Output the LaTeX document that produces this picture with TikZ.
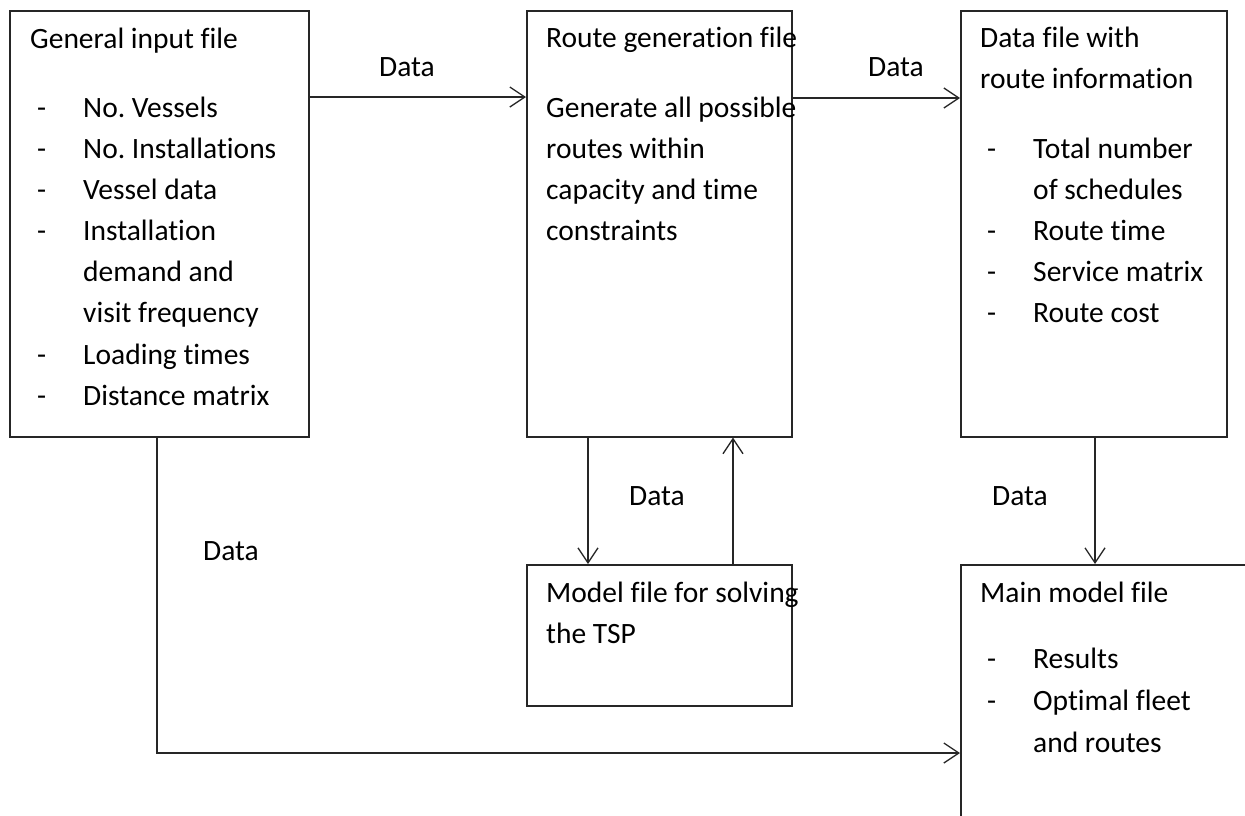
\documentclass[tikz,border=0pt]{standalone}
\usepackage{fontspec}
\setmainfont{Carlito}[Ligatures=NoCommon]
\usetikzlibrary{arrows.meta}
\frenchspacing
\begin{document}
\begin{tikzpicture}[x=1pt,y=-1pt,
  box/.style={draw=black!85, line width=1.6pt, rectangle, anchor=north west, inner sep=0pt},
  txt/.style={anchor=base west, inner sep=0pt, font=\fontsize{29.5}{35}\selectfont},
  lbl/.style={inner sep=0pt, font=\fontsize{29.5}{35}\selectfont},
  conn/.style={draw=black!85, line width=1.3pt, -{Straight Barb[length=15pt,width=20pt,line width=1.3pt]}}]
\clip (0,0) rectangle (1245,815);
\fill[white] (0,0) rectangle (1245,815);
% boxes
\node[box, minimum width=299pt, minimum height=426pt] (gen) at (9,10) {};
\node[box, minimum width=265pt, minimum height=426pt] (route) at (526,10) {};
\node[box, minimum width=266pt, minimum height=426pt] (info) at (960,10) {};
\node[box, minimum width=265pt, minimum height=141pt] (tsp) at (526,564) {};
\node[box, minimum width=400pt, minimum height=300pt] (main) at (960,564) {};
% general input file
\node[txt] (g0) at (30,48) {General input file};
\node[txt] (gd1) at (37,117) {-};
\node[txt] (g1) at (83,117) {No. Vessels};
\node[txt] (gd2) at (37,158) {-};
\node[txt] (g2) at (83,158) {No. Installations};
\node[txt] (gd3) at (37,199) {-};
\node[txt] (g3) at (83,199) {Vessel data};
\node[txt] (gd4) at (37,240) {-};
\node[txt] (g4) at (83,240) {Installation};
\node[txt] (g5) at (83,281) {demand and};
\node[txt] (g6) at (83,322) {visit frequency};
\node[txt] (gd7) at (37,364) {-};
\node[txt] (g7) at (83,364) {Loading times};
\node[txt] (gd8) at (37,405) {-};
\node[txt] (g8) at (83,405) {Distance matrix};
% route generation file
\node[txt] (r0) at (546,47) {Route generation file};
\node[txt] (r1) at (546,117) {Generate all possible};
\node[txt] (r2) at (546,158) {routes within};
\node[txt] (r3) at (546,199) {capacity and time};
\node[txt] (r4) at (546,240) {constraints};
% data file with route information
\node[txt] (i0) at (980,47) {Data file with};
\node[txt] (i1) at (980,88) {route information};
\node[txt] (id2) at (987,158) {-};
\node[txt] (i2) at (1033,158) {Total number};
\node[txt] (i3) at (1033,199) {of schedules};
\node[txt] (id4) at (987,240) {-};
\node[txt] (i4) at (1033,240) {Route time};
\node[txt] (id5) at (987,281) {-};
\node[txt] (i5) at (1033,281) {Service matrix};
\node[txt] (id6) at (987,322) {-};
\node[txt] (i6) at (1033,322) {Route cost};
% TSP model
\node[txt] (t0) at (546,602) {Model file for solving};
\node[txt] (t1) at (546,643) {the TSP};
% main model
\node[txt] (m0) at (980,602) {Main model file};
\node[txt] (md1) at (987,668) {-};
\node[txt] (m1) at (1033,668) {Results};
\node[txt] (md2) at (987,710) {-};
\node[txt] (m2) at (1033,710) {Optimal fleet};
\node[txt] (m3) at (1033,752) {and routes};
% connectors
\draw[conn] ([yshift=-87pt]gen.north east) -- ([yshift=-87pt]route.north west);
\draw[conn] ([yshift=-88pt]route.north east) -- ([yshift=-88pt]info.north west);
\draw[conn] ([xshift=62pt]route.south west) -- ([xshift=62pt]tsp.north west);
\draw[conn] ([xshift=207pt]tsp.north west) -- ([xshift=207pt]route.south west);
\draw[conn] ([xshift=135pt]info.south west) -- ([xshift=135pt]main.north west);
\draw[conn] ([xshift=148pt]gen.south west) |- ([yshift=-189pt]main.north west);
% labels
\node[lbl] (l1) at (407,67) {Data};
\node[lbl] (l2) at (896,67) {Data};
\node[lbl] (l3) at (657,496) {Data};
\node[lbl] (l4) at (1020,496) {Data};
\node[lbl] (l5) at (231,551) {Data};
\end{tikzpicture}
\end{document}
